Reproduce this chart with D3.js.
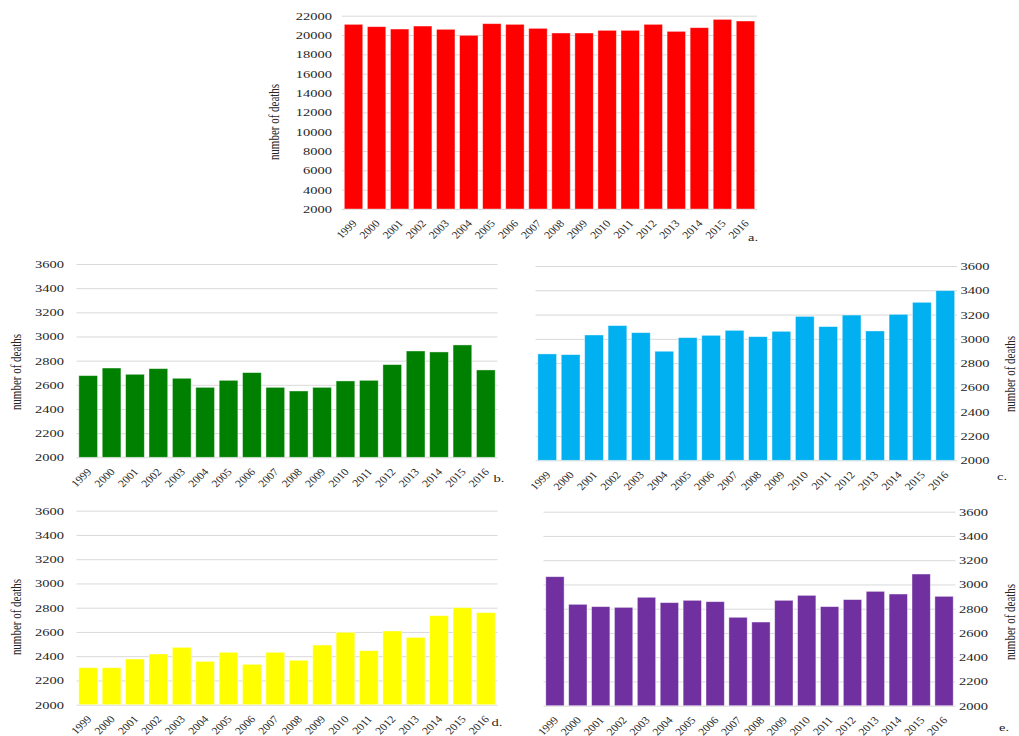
<!DOCTYPE html>
<html>
<head>
<meta charset="utf-8">
<script src="https://d3js.org/d3.v7.min.js"></script>
<style>
body { margin: 0; background: #fff; }
svg { display: block; font-family: "Liberation Serif", "Times New Roman", serif; }
</style>
</head>
<body>
<svg width="1019" height="736"></svg>
<script>
// years on the x axis
var years = ["1999", "2000", "2001", "2002", "2003", "2004", "2005", "2006", "2007",
             "2008", "2009", "2010", "2011", "2012", "2013", "2014", "2015", "2016"];

// number of deaths per panel
var deathsA = [21105, 20865, 20620, 20930, 20590, 19970, 21175, 21105, 20690, 20210, 20210, 20485, 20485, 21105, 20380, 20760, 21620, 21450];
var deathsB = [2676, 2739, 2687, 2734, 2654, 2579, 2637, 2701, 2579, 2549, 2579, 2632, 2637, 2767, 2880, 2872, 2930, 2723];
var deathsC = [2876, 2870, 3032, 3109, 3051, 2898, 3010, 3029, 3070, 3018, 3062, 3185, 3101, 3196, 3065, 3202, 3301, 3397];
var deathsD = [2305, 2305, 2377, 2418, 2473, 2357, 2432, 2333, 2432, 2366, 2492, 2597, 2445, 2608, 2555, 2734, 2800, 2759];
var deathsE = [3064, 2836, 2817, 2811, 2894, 2850, 2869, 2858, 2729, 2690, 2869, 2910, 2817, 2875, 2943, 2921, 3086, 2902];

// y tick labels
var ticksBig = [2000, 4000, 6000, 8000, 10000, 12000, 14000, 16000, 18000, 20000, 22000];
var ticksSmall = [2000, 2200, 2400, 2600, 2800, 3000, 3200, 3400, 3600];

var svg = d3.select("svg");
var serif = "'Liberation Serif', 'Times New Roman', serif";
// the figure is stretched sideways, so the text is too
var sx = 1.45;

function panel(o) {
    var g = svg.append("g");

    var x = d3.scaleBand()
        .domain(years)
        .range([o.x0, o.x1])
        .paddingInner(0.2)
        .paddingOuter(0.1);

    var y = d3.scaleLinear()
        .domain([o.ticks[0], o.ticks[o.ticks.length - 1]])
        .range([o.y0, o.y1]);

    // gridlines with the tick labels
    var axis = (o.right ? d3.axisRight(y) : d3.axisLeft(y))
        .tickValues(o.ticks)
        .tickSize(-(o.x1 - o.x0))
        .tickFormat(d3.format("d"));

    var gy = g.append("g")
        .attr("transform", "translate(" + (o.right ? o.x1 : o.x0) + ",0)")
        .call(axis)
        .attr("font-family", serif)
        .attr("font-size", 10);
    gy.select(".domain").remove();
    gy.selectAll("line").attr("stroke", "#d9d9d9");
    gy.selectAll("text")
        .attr("x", 0)
        .attr("dy", "0.35em")
        .attr("fill", "#262626")
        .attr("transform", "translate(" + o.gap + ",0) scale(" + sx + ",1)");

    // bars
    g.selectAll("rect")
        .data(o.values)
        .enter().append("rect")
        .attr("x", function (d, i) { return x(years[i]); })
        .attr("y", function (d) { return y(d); })
        .attr("width", x.bandwidth())
        .attr("height", function (d) { return o.y0 - y(d); })
        .attr("fill", o.color)
        .attr("stroke", "#fff")
        .attr("stroke-opacity", 0.5)
        .attr("stroke-width", 0.8);

    // year labels, turned
    var gx = g.append("g")
        .attr("transform", "translate(0," + o.y0 + ")")
        .call(d3.axisBottom(x).tickSize(0))
        .attr("font-family", serif)
        .attr("font-size", 10.5);
    gx.select(".domain").remove();
    gx.selectAll("text")
        .attr("y", 0)
        .attr("dy", 0)
        .attr("fill", "#262626")
        .attr("text-anchor", "end")
        .attr("transform", "translate(4,15) scale(1.12,1) rotate(-47)");

    // y axis title
    g.append("text")
        .attr("transform", "translate(" + o.tx + "," + o.ty + ") scale(1.35,1) rotate(-90)")
        .attr("text-anchor", "middle")
        .attr("dy", "0.35em")
        .attr("fill", "#262626")
        .style("font-size", "11px")
        .text("number of deaths");

    // panel letter
    g.append("text")
        .attr("transform", "translate(" + o.lx + "," + o.ly + ") scale(" + sx + ",1)")
        .attr("text-anchor", "middle")
        .attr("dy", "0.35em")
        .attr("fill", "#262626")
        .style("font-size", "10px")
        .text(o.letter);
}

panel({ values: deathsA, ticks: ticksBig, color: "#ff0000", x0: 342, x1: 757, y0: 209, y1: 15.7,
        gap: -10, tx: 274, ty: 122, lx: 753, ly: 237, letter: "a." });
panel({ values: deathsB, ticks: ticksSmall, color: "#008000", x0: 76.5, x1: 497.5, y0: 457.3, y1: 264,
        gap: -12.5, tx: 16, ty: 372, lx: 499, ly: 478, letter: "b." });
panel({ values: deathsC, ticks: ticksSmall, color: "#00b0f0", x0: 535.5, x1: 957, y0: 460.3, y1: 266,
        right: true, gap: 3.5, tx: 1010, ty: 374, lx: 1002, ly: 476, letter: "c." });
panel({ values: deathsD, ticks: ticksSmall, color: "#ffff00", x0: 76.5, x1: 497.5, y0: 704.7, y1: 510.7,
        gap: -12.5, tx: 16, ty: 617, lx: 497, ly: 722, letter: "d." });
panel({ values: deathsE, ticks: ticksSmall, color: "#7030a0", x0: 543.5, x1: 955.5, y0: 705.7, y1: 511.7,
        right: true, gap: 3.5, tx: 1010, ty: 622, lx: 1004, ly: 727, letter: "e." });
</script>
</body>
</html>
